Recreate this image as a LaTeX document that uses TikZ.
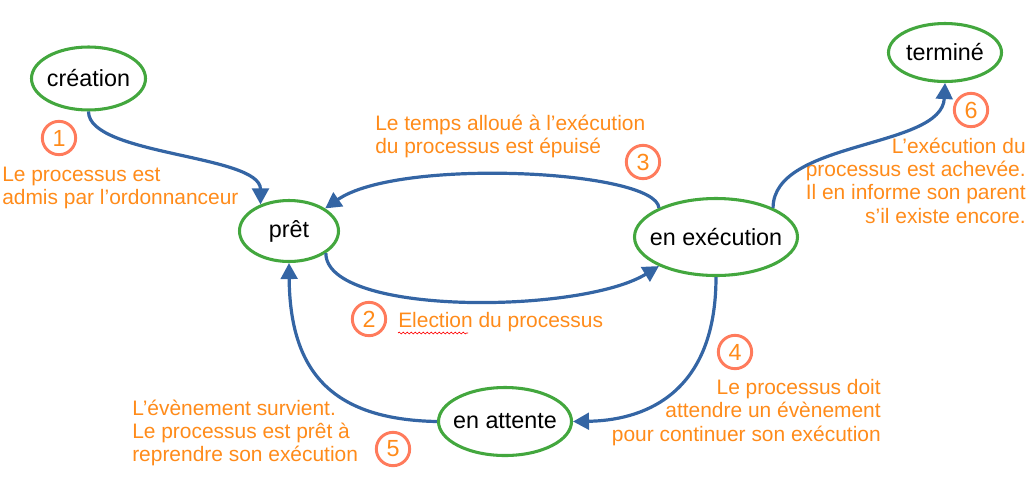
\documentclass[tikz,border=0pt]{standalone}
\usepackage{fontspec}
\setmainfont{Liberation Sans}
\usetikzlibrary{shapes.geometric,arrows.meta,decorations.pathmorphing}
\definecolor{stategreen}{RGB}{67,167,62}
\definecolor{arrowblue}{RGB}{52,101,164}
\definecolor{labelorange}{RGB}{255,139,26}
\definecolor{numred}{RGB}{255,123,92}
\newcommand{\stxt}[1]{\makebox[0pt]{#1}}
\begin{document}
\begin{tikzpicture}[x=0.75pt,y=-0.75pt,
  state/.style={ellipse, draw=stategreen, line width=2.3pt, inner sep=0pt,
    font=\fontsize{17.5}{21}\selectfont},
  flow/.style={draw=arrowblue, line width=2.4pt, -{Triangle[length=12pt,width=12.5pt]}},
  num/.style={circle, draw=numred, line width=2.2pt, minimum size=25pt, inner sep=0pt,
    text=labelorange, font=\fontsize{17.5}{21}\selectfont},
  lab/.style={text=labelorange, inner sep=0pt, font=\fontsize{15.7}{17.5}\selectfont}]
\useasboundingbox (0,0) rectangle (1031,476);

% states
\node[state, minimum width=85.5pt, minimum height=47.25pt] (creation) at (88.5,78.5) {\stxt{création}};
\node[state, minimum width=74.25pt, minimum height=45.75pt] (pret) at (289,231) {\stxt{prêt}};
\node[state, minimum width=122.25pt, minimum height=57.75pt] (exec) at (716,237) {\stxt{en exécution}};
\node[state, minimum width=84.75pt, minimum height=43.5pt] (termine) at (945,52.5) {\stxt{terminé}};
\node[state, minimum width=99.75pt, minimum height=51pt] (attente) at (505,421.5) {\stxt{en attente}};

% numbers
\node[num] (n1) at (59,138) {1};
\node[num] (n2) at (369,319) {2};
\node[num] (n3) at (643,162) {3};
\node[num] (n4) at (735,352) {4};
\node[num] (n5) at (393,449) {5};
\node[num] (n6) at (971,110) {6};

% labels
\node[lab, anchor=west, align=left] (l1) at (2,188) {Le processus est\\admis par l’ordonnanceur};
\node[lab, anchor=west, align=left] (l3) at (375,136.5) {Le temps alloué à l’exécution\\du processus est épuisé};
\node[lab, anchor=west] (l2) at (398,322) {Election du processus};
\node[lab, anchor=east, align=right] (l6) at (1026,180.5) {L’exécution du\\processus est achevée.\\Il en informe son parent\\s’il existe encore.};
\node[lab, anchor=east, align=right] (l4) at (881,412.5) {Le processus doit\\attendre un évènement\\pour continuer son exécution};
\node[lab, anchor=west, align=left] (l5) at (132,433) {L’évènement survient.\\Le processus est prêt à\\reprendre son exécution};

% spell-check underline
\draw[red, line width=0.5pt, decorate, decoration={snake, amplitude=0.7pt, segment length=3pt}]
  (398,333) -- (468,333);

% connectors
\draw[flow] (creation.south) .. controls +(0,44) and +(0,-50) .. (pret.137);
\draw[flow] (pret.329) .. controls +(0,63) and +(-78,48) .. (exec.207);
\draw[flow] (exec.153) .. controls +(-3,-38) and +(73,-51) .. (pret.32);
\draw[flow] (exec.south) .. controls +(0,122) and +(65,-1) .. (attente.east);
\draw[flow] (attente.west) .. controls +(-107,-2) and +(1,107) .. (pret.south);
\draw[flow] (exec.27) .. controls +(0,-68) and +(-3,66) .. (termine.south);
\end{tikzpicture}
\end{document}
